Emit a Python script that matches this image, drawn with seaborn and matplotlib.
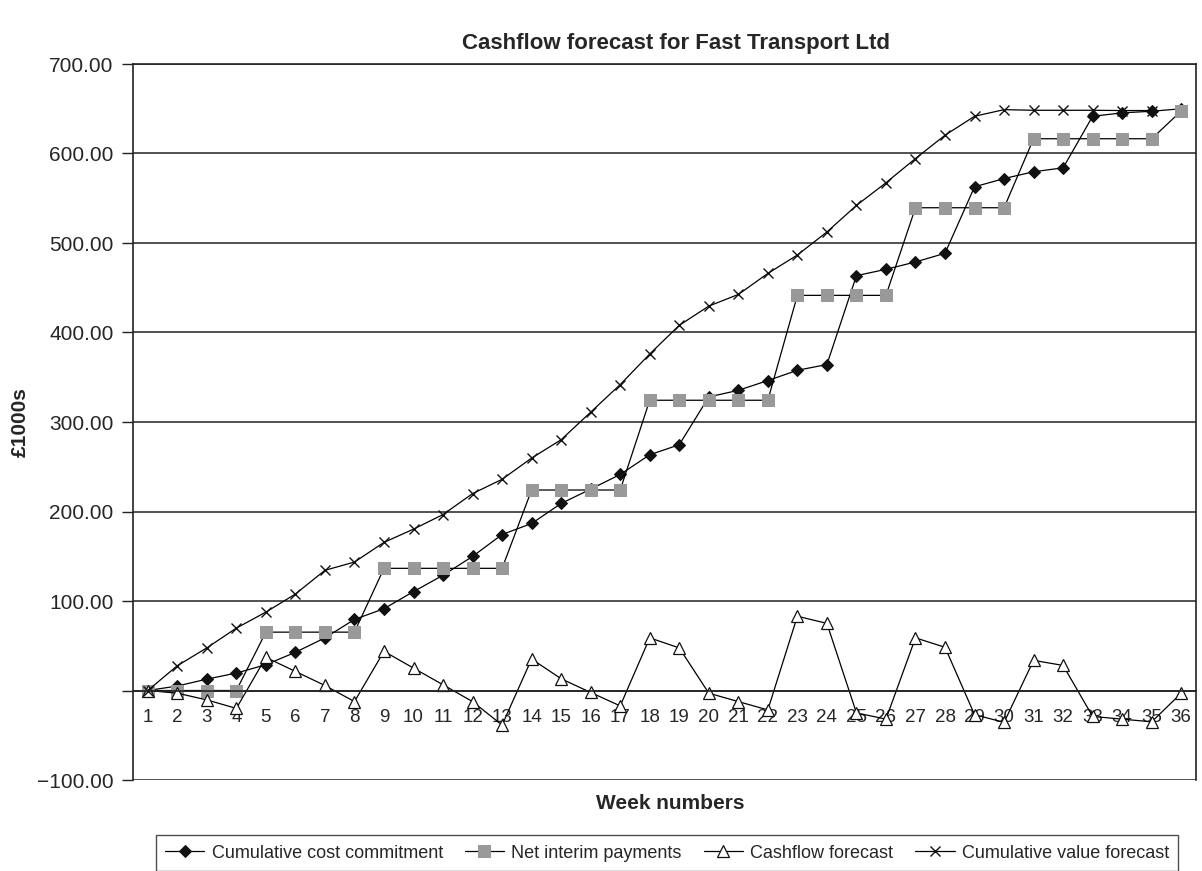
import numpy as np
import pandas as pd
import matplotlib
matplotlib.use("Agg")
import matplotlib.pyplot as plt
import seaborn as sns
from matplotlib.ticker import FuncFormatter

# data (£1000s per week)
weeks = list(range(1, 37))

cost_commitment = [0, 5, 12.7, 19.5, 28.8, 42.7, 58.8, 79.4, 91.4, 110.5, 128.8, 149.8,
                   174.3, 186.6, 209, 225, 241.4, 263.4, 274.6, 328, 335.4, 346.3, 357.8, 364.2,
                   463.5, 470.6, 478.8, 488.5, 562.8, 572, 579.6, 584, 641.6, 645.4, 647.2, 650]

net_payments = [0, 0, 0, 0, 65.2, 65.2, 65.2, 65.2, 136.5, 136.5, 136.5, 136.5,
                136.5, 224, 224, 224, 224, 324.3, 324.3, 324.3, 324.3, 324.3, 441.5, 441.5,
                441.5, 441.5, 539.4, 539.4, 539.4, 539.4, 616.5, 616.5, 616.5, 616.5, 616.5, 647.5]

cashflow = [0, -3, -10.5, -20, 37, 21.3, 5.6, -12.4, 43.8, 25, 6.4, -12.4,
            -38.6, 35.2, 13.1, -2.2, -17.2, 58.8, 47.6, -3, -12.4, -21.7, 83, 75,
            -25, -32, 58.8, 48.3, -27, -35.6, 33.7, 28, -29, -32, -35, -3]

value_forecast = [0, 27.7, 47.6, 69.7, 87.6, 107.8, 134.3, 143.5, 165.5, 180.3, 196.6, 220,
                  236, 259.7, 280.2, 311, 341.8, 376, 408, 429.5, 442.5, 466, 486.6, 512.3,
                  542, 567.3, 594.4, 620.4, 641.6, 649, 648.3, 648.3, 648.3, 648, 648]

sns.set_style("white")
plt.rcParams["font.family"] = ["Liberation Sans", "DejaVu Sans"]

W, H = 1202, 871
fig = plt.figure(figsize=(W / 100, H / 100), dpi=100)
ax = fig.add_axes([133 / W, 1 - 780 / H, (1196 - 133) / W, (780 - 64) / H])

line_kw = dict(color="black", linewidth=0.9, ax=ax)
sns.lineplot(x=weeks, y=cost_commitment, marker="D", markersize=6.5,
             markerfacecolor="#111111", markeredgecolor="#111111",
             label="Cumulative cost commitment", **line_kw)
sns.lineplot(x=weeks, y=net_payments, marker="s", markersize=8,
             markerfacecolor="#999999", markeredgecolor="#999999",
             label="Net interim payments", **line_kw)
sns.lineplot(x=weeks, y=cashflow, marker="^", markersize=8.5,
             markerfacecolor="white", markeredgecolor="#111111", markeredgewidth=0.9,
             label="Cashflow forecast", **line_kw)
sns.lineplot(x=weeks[:len(value_forecast)], y=value_forecast, marker="x", markersize=7.5,
             markeredgecolor="#111111", markeredgewidth=1.0,
             label="Cumulative value forecast", **line_kw)

ax.set_xlim(0.5, 36.5)
ax.set_ylim(-100, 700)

# category axis sitting on zero, ticks between categories
ax.spines["bottom"].set_position(("data", 0))
for s in ["left", "bottom", "top", "right"]:
    ax.spines[s].set_color("#222222")
    ax.spines[s].set_linewidth(1.2)

ax.set_xticks(weeks)
ax.set_xticklabels([str(w) for w in weeks])
ax.set_xticks(np.arange(1.5, 36.5, 1), minor=True)
ax.tick_params(axis="x", which="major", length=0, pad=13, labelsize=13.5)
ax.tick_params(axis="x", which="minor", length=5, width=1.0, direction="out", color="#222222")

ax.set_yticks(np.arange(-100, 701, 100))
ax.yaxis.set_major_formatter(FuncFormatter(
    lambda v, p: "" if abs(v) < 1e-9 else f"{v:.2f}".replace("-", "\u2212")))
ax.tick_params(axis="y", length=8, width=1.0, direction="out", color="#222222",
               labelsize=15, pad=6, left=True)
ax.yaxis.grid(True, color="#333333", linewidth=1.2)
ax.xaxis.grid(False)
ax.set_axisbelow(True)

ax.set_xlabel("")
ax.set_ylabel("£1000s", fontsize=15, fontweight="bold")
ax.yaxis.set_label_coords(-0.097, 0.5)

fig.text(676 / W, 1 - 44 / H, "Cashflow forecast for Fast Transport Ltd",
         ha="center", va="center", fontsize=16, fontweight="bold")
fig.text(670 / W, 1 - 803 / H, "Week numbers", ha="center", va="center",
         fontsize=15, fontweight="bold")

handles, labels = ax.get_legend_handles_labels()
ax.get_legend().remove()
leg = fig.legend(handles, labels, loc="center", bbox_to_anchor=(667 / W, 1 - 853 / H),
                 ncol=4, frameon=True, fancybox=False, edgecolor="#222222",
                 fontsize=13, handlelength=2.2, handletextpad=0.4, columnspacing=1.2,
                 borderpad=0.5)
leg.get_frame().set_linewidth(1.0)

fig.savefig("out.png", dpi=100)
